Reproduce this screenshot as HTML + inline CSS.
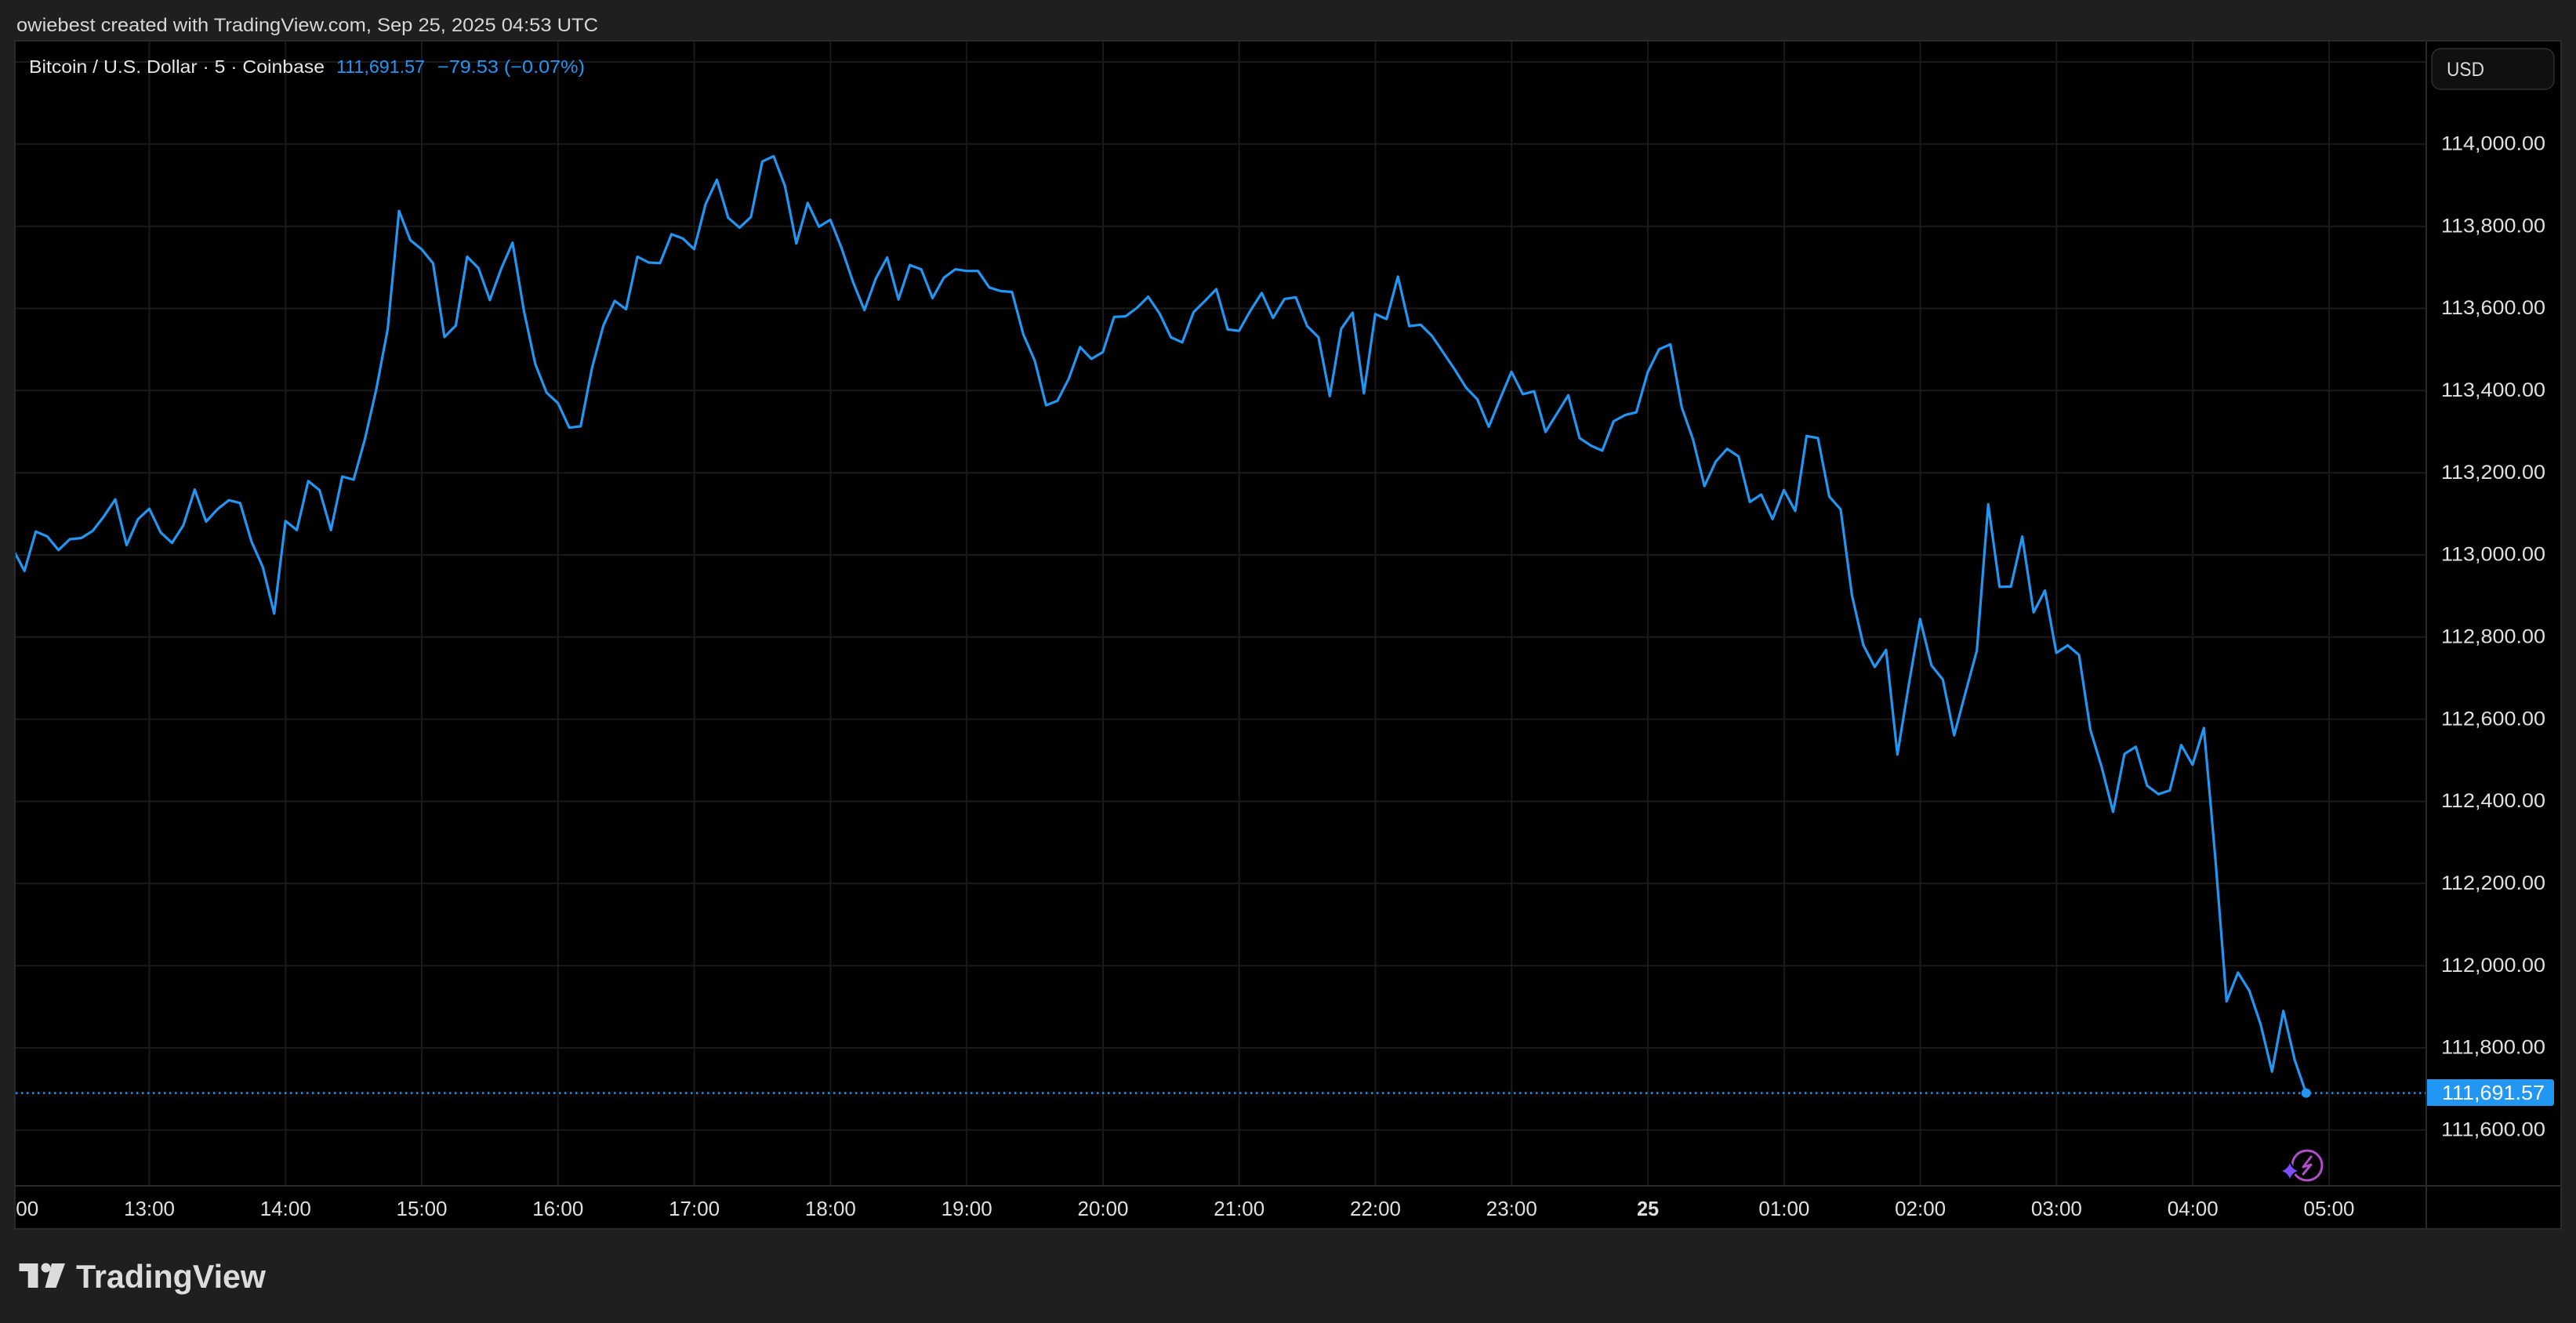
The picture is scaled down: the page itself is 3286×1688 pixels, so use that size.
<!DOCTYPE html>
<html><head><meta charset="utf-8"><style>
html,body{margin:0;padding:0;background:#1f1f1f;}
svg{display:block;}
text{font-family:"Liberation Sans",sans-serif;}
</style></head><body>
<svg width="3286" height="1688" viewBox="0 0 3286 1688" xmlns="http://www.w3.org/2000/svg">
<defs>
<clipPath id="plot"><rect x="20" y="53" width="3075" height="1460"/></clipPath>
<clipPath id="taxis"><rect x="20" y="1514" width="3075" height="54"/></clipPath>
</defs>
<rect x="0" y="0" width="3286" height="1688" fill="#1f1f1f"/>
<text x="21" y="40" font-size="24" fill="#d6d6d6" textLength="742" lengthAdjust="spacingAndGlyphs">owiebest created with TradingView.com, Sep 25, 2025 04:53 UTC</text>
<rect x="20" y="53" width="3246" height="1515" fill="#000"/>
<g stroke="#1a1a1a" stroke-width="2">
<line x1="20" y1="79" x2="3095" y2="79"/>
<line x1="20" y1="183.8" x2="3095" y2="183.8"/>
<line x1="20" y1="288.7" x2="3095" y2="288.7"/>
<line x1="20" y1="393.5" x2="3095" y2="393.5"/>
<line x1="20" y1="498.3" x2="3095" y2="498.3"/>
<line x1="20" y1="603.2" x2="3095" y2="603.2"/>
<line x1="20" y1="708" x2="3095" y2="708"/>
<line x1="20" y1="812.8" x2="3095" y2="812.8"/>
<line x1="20" y1="917.6" x2="3095" y2="917.6"/>
<line x1="20" y1="1022.5" x2="3095" y2="1022.5"/>
<line x1="20" y1="1127.3" x2="3095" y2="1127.3"/>
<line x1="20" y1="1232.1" x2="3095" y2="1232.1"/>
<line x1="20" y1="1337" x2="3095" y2="1337"/>
<line x1="20" y1="1441.8" x2="3095" y2="1441.8"/>
<line x1="190.5" y1="53" x2="190.5" y2="1513"/>
<line x1="364.3" y1="53" x2="364.3" y2="1513"/>
<line x1="538" y1="53" x2="538" y2="1513"/>
<line x1="711.8" y1="53" x2="711.8" y2="1513"/>
<line x1="885.6" y1="53" x2="885.6" y2="1513"/>
<line x1="1059.4" y1="53" x2="1059.4" y2="1513"/>
<line x1="1233.2" y1="53" x2="1233.2" y2="1513"/>
<line x1="1407" y1="53" x2="1407" y2="1513"/>
<line x1="1580.7" y1="53" x2="1580.7" y2="1513"/>
<line x1="1754.5" y1="53" x2="1754.5" y2="1513"/>
<line x1="1928.3" y1="53" x2="1928.3" y2="1513"/>
<line x1="2102.1" y1="53" x2="2102.1" y2="1513"/>
<line x1="2275.9" y1="53" x2="2275.9" y2="1513"/>
<line x1="2449.6" y1="53" x2="2449.6" y2="1513"/>
<line x1="2623.4" y1="53" x2="2623.4" y2="1513"/>
<line x1="2797.2" y1="53" x2="2797.2" y2="1513"/>
<line x1="2971" y1="53" x2="2971" y2="1513"/>
</g>
<g clip-path="url(#plot)">
<line x1="20" y1="1394.6" x2="3095" y2="1394.6" stroke="#2196f3" stroke-width="2.5" stroke-dasharray="2.5 4.5"/>
<polyline fill="none" stroke="#2196f3" stroke-width="3.2" stroke-linejoin="round" stroke-linecap="round" vector-effect="non-scaling-stroke" transform="translate(16.7,0) scale(14.48,1)" points="0,701.1 1,728.4 2,678.2 3,684.4 4,701.8 5,688 6,686.5 7,677.5 8,658.9 9,637.1 10,695.6 11,662.5 12,649.1 13,679.3 14,692.7 15,670.2 16,624.7 17,665.5 18,649.8 19,638.2 20,641.8 21,690.9 22,723.6 23,782.9 24,664.7 25,676.4 26,613.8 27,625.5 28,676.4 29,608 30,612 31,560 32,496.4 33,420 34,269.1 35,306.5 36,318.2 37,336 38,430 39,415.4 40,327.5 41,342.1 42,382.9 43,342.9 44,309.6 45,396.4 46,464.3 47,501.1 48,514.3 49,545.7 50,543.9 51,469.6 52,415.4 53,383.9 54,394.6 55,327.5 56,335 57,335.7 58,298.9 59,304.3 60,317.9 61,260.7 62,229.3 63,277.9 64,290.4 65,276.8 66,206.1 67,199.3 68,237.5 69,310.7 70,258.9 71,289.3 72,280.4 73,317.1 74,360 75,395.7 76,355.4 77,328.6 78,382.1 79,338.2 80,343.6 81,380.4 82,354.3 83,343.6 84,345.7 85,345.7 86,366.8 87,371.4 88,372.5 89,426.8 90,460 91,517.1 92,511.4 93,483.2 94,442.9 95,457.9 96,449.3 97,404.3 98,403.6 99,392.9 100,378.6 101,400 102,430.4 103,436.8 104,398.2 105,383.9 106,368.9 107,420.4 108,422.1 109,396.4 110,373.8 111,405.7 112,381.4 113,379.3 114,416.1 115,430.4 116,505.4 117,419.6 118,398.9 119,501.8 120,400.7 121,407.1 122,352.9 123,416.1 124,414.3 125,428.6 126,450 127,471.4 128,494.6 129,509.6 130,544.6 131,508.9 132,474.3 133,502.9 134,499.3 135,551.1 136,527.9 137,504.3 138,558.9 139,568.6 140,575 141,537.5 142,529.6 143,526.1 144,475 145,445.7 146,439.3 147,519.6 148,561 149,620.2 150,588.8 151,572.7 152,582.3 153,640.5 154,630.9 155,662.3 156,625.2 157,652 158,556.3 159,559 160,633.6 161,650 162,759.9 163,823 164,851 165,829.2 166,962.7 167,874 168,789.7 169,849 170,867 171,938.2 172,883.5 173,830 174,643.5 175,748.8 176,748.4 177,684.5 178,781.3 179,753.4 180,833 181,823.4 182,835.7 183,931.2 184,979 185,1036 186,962 187,952.8 188,1002.5 189,1013.3 190,1008.4 191,950.6 192,975.7 193,928.9 194,1093.5 195,1277.7 196,1240.9 197,1264 198,1307 199,1367.3 200,1289.8 201,1352.4 202,1394.6"/>
<circle cx="2941.7" cy="1394.6" r="6" fill="#2196f3"/>
<circle cx="2943" cy="1487" r="22" fill="#000"/>
<circle cx="2943" cy="1487" r="19" fill="none" stroke="#b04fc8" stroke-width="3"/>
<polyline points="2948,1476 2938,1489 2948,1486 2938,1498" fill="none" stroke="#b04fc8" stroke-width="3" stroke-linejoin="round" stroke-linecap="round"/>
<path d="M2921,1480 Q2923,1492 2935,1494 Q2923,1496 2921,1508 Q2919,1496 2907,1494 Q2919,1492 2921,1480 Z" fill="#7c4dff" stroke="#000" stroke-width="2"/>
</g>
<text x="37" y="93" font-size="23" fill="#e6e6e6" textLength="377" lengthAdjust="spacingAndGlyphs">Bitcoin / U.S. Dollar · 5 · Coinbase</text>
<text x="429" y="93" font-size="23" fill="#2196f3" textLength="113" lengthAdjust="spacingAndGlyphs">111,691.57</text>
<text x="558" y="93" font-size="23" fill="#2196f3" textLength="188" lengthAdjust="spacingAndGlyphs">−79.53 (−0.07%)</text>
<g stroke="#2a2a2a" stroke-width="2" fill="none">
<rect x="19" y="52" width="3248" height="1516"/>
<line x1="3095" y1="53" x2="3095" y2="1568"/>
<line x1="20" y1="1513" x2="3266" y2="1513"/>
</g>
<rect x="3102" y="62" width="156" height="52" rx="12" fill="#101010" stroke="#2e2e2e" stroke-width="1.5"/>
<text x="3121" y="97" font-size="25" fill="#d9d9d9" textLength="48" lengthAdjust="spacingAndGlyphs">USD</text>
<g font-size="25" fill="#e0e0e0">
<text x="3114" y="191.5" textLength="133" lengthAdjust="spacingAndGlyphs">114,000.00</text>
<text x="3114" y="296.4" textLength="133" lengthAdjust="spacingAndGlyphs">113,800.00</text>
<text x="3114" y="401.2" textLength="133" lengthAdjust="spacingAndGlyphs">113,600.00</text>
<text x="3114" y="506" textLength="133" lengthAdjust="spacingAndGlyphs">113,400.00</text>
<text x="3114" y="610.9" textLength="133" lengthAdjust="spacingAndGlyphs">113,200.00</text>
<text x="3114" y="715.7" textLength="133" lengthAdjust="spacingAndGlyphs">113,000.00</text>
<text x="3114" y="820.5" textLength="133" lengthAdjust="spacingAndGlyphs">112,800.00</text>
<text x="3114" y="925.3" textLength="133" lengthAdjust="spacingAndGlyphs">112,600.00</text>
<text x="3114" y="1030.2" textLength="133" lengthAdjust="spacingAndGlyphs">112,400.00</text>
<text x="3114" y="1135" textLength="133" lengthAdjust="spacingAndGlyphs">112,200.00</text>
<text x="3114" y="1239.8" textLength="133" lengthAdjust="spacingAndGlyphs">112,000.00</text>
<text x="3114" y="1344.7" textLength="133" lengthAdjust="spacingAndGlyphs">111,800.00</text>
<text x="3114" y="1449.5" textLength="133" lengthAdjust="spacingAndGlyphs">111,600.00</text>
</g>
<path d="M3096,1377 H3254 Q3258,1377 3258,1381 V1407 Q3258,1411 3254,1411 H3096 Z" fill="#2196f3"/>
<text x="3115" y="1403" font-size="26" fill="#ffffff" textLength="131" lengthAdjust="spacingAndGlyphs">111,691.57</text>
<g clip-path="url(#taxis)" font-size="26" fill="#e0e0e0" text-anchor="middle">
<text x="16.7" y="1551" textLength="65" lengthAdjust="spacingAndGlyphs">12:00</text>
<text x="190.5" y="1551" textLength="65" lengthAdjust="spacingAndGlyphs">13:00</text>
<text x="364.3" y="1551" textLength="65" lengthAdjust="spacingAndGlyphs">14:00</text>
<text x="538" y="1551" textLength="65" lengthAdjust="spacingAndGlyphs">15:00</text>
<text x="711.8" y="1551" textLength="65" lengthAdjust="spacingAndGlyphs">16:00</text>
<text x="885.6" y="1551" textLength="65" lengthAdjust="spacingAndGlyphs">17:00</text>
<text x="1059.4" y="1551" textLength="65" lengthAdjust="spacingAndGlyphs">18:00</text>
<text x="1233.2" y="1551" textLength="65" lengthAdjust="spacingAndGlyphs">19:00</text>
<text x="1407" y="1551" textLength="65" lengthAdjust="spacingAndGlyphs">20:00</text>
<text x="1580.7" y="1551" textLength="65" lengthAdjust="spacingAndGlyphs">21:00</text>
<text x="1754.5" y="1551" textLength="65" lengthAdjust="spacingAndGlyphs">22:00</text>
<text x="1928.3" y="1551" textLength="65" lengthAdjust="spacingAndGlyphs">23:00</text>
<text x="2102.1" y="1551" font-weight="bold" textLength="28" lengthAdjust="spacingAndGlyphs">25</text>
<text x="2275.9" y="1551" textLength="65" lengthAdjust="spacingAndGlyphs">01:00</text>
<text x="2449.6" y="1551" textLength="65" lengthAdjust="spacingAndGlyphs">02:00</text>
<text x="2623.4" y="1551" textLength="65" lengthAdjust="spacingAndGlyphs">03:00</text>
<text x="2797.2" y="1551" textLength="65" lengthAdjust="spacingAndGlyphs">04:00</text>
<text x="2971" y="1551" textLength="65" lengthAdjust="spacingAndGlyphs">05:00</text>
</g>
<g fill="#dcdcdc">
<path d="M24.5,1612 H48.5 V1643 H35.7 V1622 H24.5 Z"/>
<circle cx="58.5" cy="1617.5" r="6"/>
<path d="M66,1612 H83 L71.5,1643 H57.5 Z"/>
</g>
<text x="97" y="1643" font-size="42" font-weight="bold" fill="#dcdcdc" textLength="242" lengthAdjust="spacingAndGlyphs">TradingView</text>
</svg>
</body></html>
